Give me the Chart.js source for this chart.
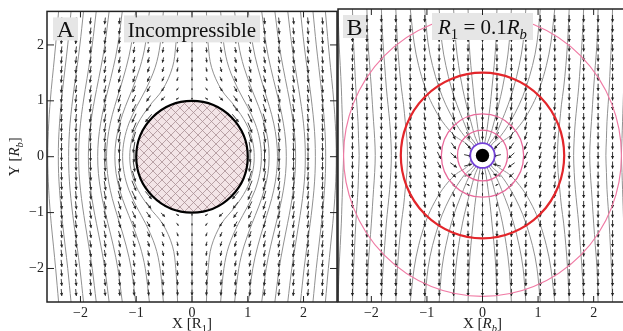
<!DOCTYPE html>
<html>
<head>
<meta charset="utf-8">
<script src="https://cdn.jsdelivr.net/npm/chart.js@4.4.0/dist/chart.umd.min.js"></script>
<style>
html, body { margin: 0; padding: 0; background: #fff; overflow: hidden; width: 623px; height: 331px; }
#wrapA { position: absolute; left: 0; top: 0; width: 338px; height: 331px; }
#wrapB { position: absolute; left: 330px; top: 0; width: 300px; height: 331px; }
</style>
</head>
<body>
<div id="wrapA"><canvas id="chartA" width="338" height="331"></canvas></div>
<div id="wrapB"><canvas id="chartB" width="300" height="331"></canvas></div>
<script>
// axis ticks (same on both panels)
const xTicks = [-2, -1, 0, 1, 2];
const yTicks = [-2, -1, 0, 1, 2];
const tickLabels = ['\u22122', '\u22121', '0', '1', '2'];

// quiver grid
const gridX = [-2.34, -2.08, -1.82, -1.56, -1.3, -1.04, -0.78, -0.52, -0.26, 0,
  0.26, 0.52, 0.78, 1.04, 1.3, 1.56, 1.82, 2.08, 2.34];
const gridY = [-2.43, -2.25, -2.08, -1.91, -1.73, -1.56, -1.39, -1.21, -1.04, -0.87, -0.69, -0.52, -0.35, -0.17, 0,
  0.17, 0.35, 0.52, 0.69, 0.87, 1.04, 1.21, 1.39, 1.56, 1.73, 1.91, 2.08, 2.25, 2.43];

// panel A velocities [vx, vy], quadrant x>=0 (cols 0..2.34), rows y = 0 .. 2.43
const flowA = [
  [null, null, null, null, [0, -1.92], [0, -1.59], [0, -1.41], [0, -1.30], [0, -1.23], [0, -1.18]],
  [null, null, null, null, [0.29, -1.85], [0.15, -1.56], [0.09, -1.40], [0.06, -1.29], [0.04, -1.23], [0.03, -1.18]],
  [null, null, null, null, [0.50, -1.67], [0.28, -1.48], [0.17, -1.35], [0.11, -1.27], [0.07, -1.21], [0.05, -1.17]],
  [null, null, null, null, [0.59, -1.44], [0.35, -1.37], [0.22, -1.30], [0.15, -1.24], [0.10, -1.19], [0.07, -1.16]],
  [null, null, null, [0.91, -1.11], [0.59, -1.25], [0.38, -1.26], [0.25, -1.23], [0.18, -1.20], [0.12, -1.17], [0.09, -1.14]],
  [null, null, null, [0.73, -0.92], [0.54, -1.10], [0.38, -1.16], [0.27, -1.17], [0.19, -1.16], [0.14, -1.14], [0.10, -1.12]],
  [[0, -0.08], [0.41, -0.23], [0.59, -0.56], [0.57, -0.83], [0.46, -1.00], [0.35, -1.08], [0.26, -1.11], [0.20, -1.12], [0.15, -1.11], [0.11, -1.10]],
  [[0, -0.32], [0.27, -0.41], [0.42, -0.60], [0.44, -0.80], [0.39, -0.94], [0.32, -1.02], [0.25, -1.06], [0.19, -1.08], [0.15, -1.08], [0.12, -1.08]],
  [[0, -0.48], [0.18, -0.53], [0.30, -0.66], [0.34, -0.79], [0.32, -0.91], [0.28, -0.98], [0.23, -1.03], [0.18, -1.05], [0.15, -1.06], [0.12, -1.06]],
  [[0, -0.59], [0.13, -0.62], [0.22, -0.70], [0.26, -0.80], [0.26, -0.89], [0.24, -0.96], [0.21, -1.00], [0.17, -1.03], [0.14, -1.04], [0.12, -1.05]],
  [[0, -0.67], [0.10, -0.69], [0.17, -0.75], [0.21, -0.82], [0.22, -0.88], [0.20, -0.94], [0.18, -0.98], [0.16, -1.01], [0.13, -1.02], [0.11, -1.03]],
  [[0, -0.72], [0.07, -0.74], [0.13, -0.78], [0.17, -0.83], [0.18, -0.89], [0.17, -0.93], [0.16, -0.97], [0.14, -0.99], [0.13, -1.01], [0.11, -1.02]],
  [[0, -0.77], [0.06, -0.78], [0.10, -0.81], [0.13, -0.85], [0.15, -0.89], [0.15, -0.93], [0.14, -0.96], [0.13, -0.98], [0.12, -1.00], [0.10, -1.01]],
  [[0, -0.80], [0.04, -0.81], [0.08, -0.83], [0.11, -0.86], [0.12, -0.89], [0.13, -0.93], [0.12, -0.95], [0.12, -0.97], [0.11, -0.99], [0.09, -1.00]],
  [[0, -0.83], [0.04, -0.84], [0.07, -0.85], [0.09, -0.87], [0.10, -0.90], [0.11, -0.93], [0.11, -0.95], [0.10, -0.97], [0.10, -0.99], [0.09, -1.00]]
];

// panel B velocities near the accretor, x = 0 .. 1.3, rows y = 1.39 (top) .. -1.39 (bottom)
const flowB = [
  [[0, -1.16], [-0.03, -1.15], [-0.05, -1.13], [-0.06, -1.10], [-0.06, -1.08], [-0.06, -1.06]],
  [[0, -1.20], [-0.04, -1.19], [-0.07, -1.16], [-0.08, -1.12], [-0.08, -1.09], [-0.07, -1.06]],
  [[0, -1.28], [-0.06, -1.25], [-0.10, -1.20], [-0.11, -1.14], [-0.10, -1.10], [-0.08, -1.07]],
  [[0, -1.40], [-0.11, -1.35], [-0.15, -1.25], [-0.15, -1.16], [-0.13, -1.10], [-0.10, -1.07]],
  [[0, -1.62], [-0.19, -1.51], [-0.24, -1.32], [-0.21, -1.18], [-0.16, -1.11], [-0.12, -1.07]],
  [[0, -2.11], [-0.40, -1.79], [-0.39, -1.39], [-0.28, -1.19], [-0.20, -1.10], [-0.14, -1.06]],
  [[0, -3.5], [-0.96, -2.28], [-0.64, -1.43], [-0.38, -1.17], [-0.24, -1.08], [-0.16, -1.04]],
  [null, [-2.56, -2.7], [-0.95, -1.32], [-0.46, -1.10], [-0.27, -1.04], [-0.17, -1.02]],
  [null, [-4.44, -1], [-1.11, -1], [-0.49, -1], [-0.28, -1], [-0.18, -1]],
  [null, [-2.56, 0.7], [-0.95, -0.68], [-0.46, -0.90], [-0.27, -0.96], [-0.17, -0.98]],
  [[0, 1.5], [-0.96, 0.28], [-0.64, -0.57], [-0.38, -0.83], [-0.24, -0.92], [-0.16, -0.96]],
  [[0, 0.11], [-0.40, -0.21], [-0.39, -0.61], [-0.28, -0.81], [-0.20, -0.90], [-0.14, -0.94]],
  [[0, -0.38], [-0.19, -0.49], [-0.24, -0.68], [-0.21, -0.82], [-0.16, -0.89], [-0.12, -0.93]],
  [[0, -0.60], [-0.11, -0.65], [-0.15, -0.75], [-0.15, -0.84], [-0.13, -0.90], [-0.10, -0.93]],
  [[0, -0.72], [-0.06, -0.75], [-0.10, -0.80], [-0.11, -0.86], [-0.10, -0.90], [-0.08, -0.93]],
  [[0, -0.80], [-0.04, -0.81], [-0.07, -0.84], [-0.08, -0.88], [-0.08, -0.91], [-0.07, -0.94]],
  [[0, -0.84], [-0.03, -0.85], [-0.05, -0.87], [-0.06, -0.90], [-0.06, -0.92], [-0.06, -0.94]]
];

// streamlines, right half, upper half (x at each y level)
const lineYA = [2.6, 2.0, 1.6, 1.2, 0.9, 0.6, 0.3, 0];
const linesA = [
  [0.258, 0.291, 0.35, 0.527, 0.77, 0.967, 1.08, 1.116],
  [0.513, 0.572, 0.66, 0.83, 0.992, 1.13, 1.215, 1.244],
  [0.764, 0.838, 0.932, 1.074, 1.194, 1.295, 1.361, 1.383],
  [1.01, 1.09, 1.179, 1.295, 1.387, 1.465, 1.515, 1.533],
  [1.25, 1.33, 1.41, 1.506, 1.578, 1.638, 1.678, 1.691],
  [1.486, 1.563, 1.633, 1.712, 1.769, 1.816, 1.848, 1.858],
  [1.717, 1.789, 1.85, 1.915, 1.961, 1.999, 2.024, 2.032],
  [1.945, 2.01, 2.062, 2.118, 2.155, 2.186, 2.206, 2.212],
  [2.169, 2.228, 2.274, 2.32, 2.351, 2.375, 2.392, 2.397],
  [2.392, 2.445, 2.484, 2.524, 2.549, 2.569, 2.582, 2.587],
  [2.612, 2.66, 2.695, 2.728, 2.749, 2.765, 2.776, 2.78]
];
const lineYBin = [2.6, 2.0, 1.6, 1.2, 0.9, 0.6, 0.35, 0.15];
const linesBin = [
  [0.26, 0.24, 0.21, 0.17, 0.14, 0.10, 0.065, 0.03],
  [0.52, 0.48, 0.43, 0.36, 0.29, 0.21, 0.14, 0.065],
  [0.78, 0.73, 0.66, 0.56, 0.46, 0.34, 0.23, 0.10],
  [1.04, 0.98, 0.90, 0.78, 0.66, 0.50, 0.33, 0.14],
  [1.30, 1.23, 1.15, 1.03, 0.90, 0.72, 0.50, 0.24]
];
const lineYBout = [2.6, 2.0, 1.6, 1.2, 0.9, 0.6, 0.3, 0];
const linesBout = [
  [1.56, 1.53, 1.50, 1.46, 1.42, 1.39, 1.36, 1.35],
  [1.82, 1.79, 1.76, 1.73, 1.70, 1.67, 1.65, 1.64],
  [2.08, 2.06, 2.03, 2.00, 1.98, 1.96, 1.94, 1.93],
  [2.34, 2.32, 2.30, 2.28, 2.26, 2.24, 2.23, 2.22],
  [2.60, 2.58, 2.56, 2.54, 2.53, 2.52, 2.51, 2.50]
];

// radii
const obstacleA = 1.0;
const radiiB = [2.5, 1.47, 0.74, 0.45, 0.22];
const accretorB = 0.12;

const SERIF = "'Liberation Serif', 'DejaVu Serif', serif";

function mirrorLine(xs, ys, sx) {
  const pts = xs.map((x, i) => ({ x: sx * x, y: ys[i] }));
  for (let i = xs.length - 1; i >= 0; i--) {
    if (ys[i] !== 0) pts.push({ x: sx * xs[i], y: -ys[i] });
  }
  return pts;
}

function streamSet(data) {
  return { data: data, showLine: true, pointRadius: 0, borderColor: '#919191', borderWidth: 1, tension: 0.35, fill: false };
}

function arrowPoints(lookup) {
  const pts = [];
  gridX.forEach((gx, i) => gridY.forEach((gy, j) => {
    const vec = lookup(i, j, gx, gy);
    if (vec) pts.push({ x: gx, y: gy, u: vec[0], v: vec[1] });
  }));
  return pts;
}

const arrowsA = arrowPoints((i, j, gx, gy) => {
  const q = flowA[Math.abs(j - 14)][Math.abs(i - 9)];
  if (!q) return null;
  return [Math.sign(gx) * Math.sign(gy) * q[0], q[1]];
});
const arrowsB = arrowPoints((i, j, gx) => {
  const c = Math.abs(i - 9), r = 22 - j;
  if (c < flowB[0].length && r >= 0 && r < flowB.length) {
    const q = flowB[r][c];
    return q ? [(gx < 0 ? -1 : 1) * q[0], q[1]] : null;
  }
  return [0, -1];
});

const dsA = [];
linesA.forEach(xs => { dsA.push(streamSet(mirrorLine(xs, lineYA, 1))); dsA.push(streamSet(mirrorLine(xs, lineYA, -1))); });
dsA.push(streamSet([{ x: 0, y: 2.6 }, { x: 0, y: obstacleA }]));
dsA.push(streamSet([{ x: 0, y: -obstacleA }, { x: 0, y: -2.6 }]));
dsA.push({ data: arrowsA, pointRadius: 0, showLine: false });

const dsB = [];
linesBin.forEach(xs => { dsB.push(streamSet(mirrorLine(xs, lineYBin, 1))); dsB.push(streamSet(mirrorLine(xs, lineYBin, -1))); });
linesBout.forEach(xs => { dsB.push(streamSet(mirrorLine(xs, lineYBout, 1))); dsB.push(streamSet(mirrorLine(xs, lineYBout, -1))); });
dsB.push(streamSet([{ x: 0, y: 2.6 }, { x: 0, y: -2.6 }]));
dsB.push({ data: arrowsB, pointRadius: 0, showLine: false });

// drawing settings per panel, kept outside Chart.js option resolution
const panelStyle = {
  chartA: {
    arrowColor: '#2a2a2a', arrowWidth: 0.9, arrowScale: 7, arrowMax: 11, arrowHead: 3,
    circles: [{ r: obstacleA, fill: 'hatch', stroke: '#000', width: 2.2 }],
    boxes: [
      { box: [6, 6, 25, 23], base: 26, size: 24, parts: [['A', '']] },
      { box: [77, 4, 136, 27], base: 26, size: 21, parts: [['Incompressible', '']] }
    ],
    tickSides: ['bottom', 'top', 'left', 'right'],
    xTitle: [['X [', ''], ['R', ''], ['1', 's'], [']', '']],
    yTitle: [['Y [', ''], ['R', 'i'], ['b', 'is'], [']', '']]
  },
  chartB: {
    arrowColor: '#222', arrowWidth: 0.9, arrowScale: 7.2, arrowMax: 8, arrowHead: 3,
    circles: [
      { r: radiiB[0], fill: null, stroke: '#f07aa4', width: 1.2 },
      { r: radiiB[1], fill: null, stroke: '#e3262b', width: 2.2 },
      { r: radiiB[2], fill: null, stroke: '#e8699a', width: 1.3 },
      { r: radiiB[3], fill: null, stroke: '#e8699a', width: 1.3 },
      { r: radiiB[4], fill: '#fff', stroke: '#7442d8', width: 1.8 },
      { r: accretorB, fill: '#000', stroke: null, width: 0 }
    ],
    boxes: [
      { box: [5, 6, 23, 23], base: 26, size: 24, parts: [['B', '']] },
      { box: [94, 4, 101, 27], base: 25, size: 21, parts: [['R', 'i'], ['1', 's'], [' = 0.1', ''], ['R', 'i'], ['b', 'is']] }
    ],
    tickSides: ['bottom', 'top'],
    xTitle: [['X [', ''], ['R', 'i'], ['b', 'is'], [']', '']],
    yTitle: null
  }
};

function hatchPattern(ctx) {
  const c = document.createElement('canvas');
  c.width = 9; c.height = 9;
  const g = c.getContext('2d');
  g.fillStyle = '#f3e4e7';
  g.fillRect(0, 0, 9, 9);
  g.strokeStyle = '#a98f96';
  g.lineWidth = 0.8;
  g.beginPath();
  g.moveTo(-2, -2); g.lineTo(11, 11);
  g.moveTo(11, -2); g.lineTo(-2, 11);
  g.stroke();
  return ctx.createPattern(c, 'repeat');
}

function drawArrow(ctx, px, py, u, v, s, maxLen, head) {
  let dx = u * s, dy = -v * s;
  let L = Math.hypot(dx, dy);
  if (L > maxLen) { dx *= maxLen / L; dy *= maxLen / L; L = maxLen; }
  if (L < 1.5) { ctx.fillRect(px - 0.7, py - 0.7, 1.4, 1.4); return; }
  const ux = dx / L, uy = dy / L;
  const hx = px + dx / 2, hy = py + dy / 2;
  ctx.beginPath();
  ctx.moveTo(px - dx / 2, py - dy / 2);
  ctx.lineTo(hx, hy);
  ctx.stroke();
  const hl = Math.min(head, L * 0.5), hw = hl * 0.55;
  ctx.beginPath();
  ctx.moveTo(hx, hy);
  ctx.lineTo(hx - ux * hl - uy * hw, hy - uy * hl + ux * hw);
  ctx.lineTo(hx - ux * hl + uy * hw, hy - uy * hl - ux * hw);
  ctx.closePath();
  ctx.fill();
}

function richText(ctx, parts, x, y, size, align) {
  const fontFor = m => (m.indexOf('i') >= 0 ? 'italic ' : '') + (m.indexOf('s') >= 0 ? size * 0.7 : size) + 'px ' + SERIF;
  let w = 0;
  parts.forEach(p => { ctx.font = fontFor(p[1]); w += ctx.measureText(p[0]).width; });
  let cx = align === 'center' ? x - w / 2 : x;
  ctx.textAlign = 'left';
  ctx.textBaseline = 'alphabetic';
  parts.forEach(p => {
    ctx.font = fontFor(p[1]);
    ctx.fillText(p[0], cx, y + (p[1].indexOf('s') >= 0 ? size * 0.25 : 0));
    cx += ctx.measureText(p[0]).width;
  });
}

const panelPlugin = {
  id: 'panel',
  afterDatasetsDraw(chart) {
    const opts = panelStyle[chart.canvas.id];
    const { ctx, chartArea: a, scales: { x, y } } = chart;
    ctx.save();
    ctx.beginPath();
    ctx.rect(a.left, a.top, a.right - a.left, a.bottom - a.top);
    ctx.clip();
    // quiver arrows
    const idx = chart.data.datasets.length - 1;
    const meta = chart.getDatasetMeta(idx);
    const pts = chart.data.datasets[idx].data;
    ctx.strokeStyle = opts.arrowColor;
    ctx.fillStyle = opts.arrowColor;
    ctx.lineWidth = opts.arrowWidth;
    meta.data.forEach((el, i) => drawArrow(ctx, el.x, el.y, pts[i].u, pts[i].v, opts.arrowScale, opts.arrowMax, opts.arrowHead));
    // circles
    const cx = x.getPixelForValue(0), cy = y.getPixelForValue(0);
    opts.circles.forEach(c => {
      const rx = x.getPixelForValue(c.r) - cx, ry = cy - y.getPixelForValue(c.r);
      ctx.beginPath();
      ctx.ellipse(cx, cy, rx, ry, 0, 0, Math.PI * 2);
      if (c.fill) { ctx.fillStyle = c.fill === 'hatch' ? hatchPattern(ctx) : c.fill; ctx.fill(); }
      if (c.stroke) { ctx.strokeStyle = c.stroke; ctx.lineWidth = c.width; ctx.stroke(); }
    });
    ctx.restore();

    // label boxes
    ctx.save();
    opts.boxes.forEach(b => {
      ctx.fillStyle = '#e6e6e6';
      ctx.fillRect(a.left + b.box[0], a.top + b.box[1], b.box[2], b.box[3]);
      ctx.fillStyle = '#111';
      richText(ctx, b.parts, a.left + b.box[0] + b.box[2] / 2, a.top + b.base, b.size, 'center');
    });
    ctx.restore();

    // frame and inward ticks
    ctx.save();
    ctx.strokeStyle = '#222';
    ctx.lineWidth = 1;
    opts.tickSides.forEach(side => {
      const vals = (side === 'bottom' || side === 'top') ? xTicks : yTicks;
      vals.forEach(v => {
        ctx.beginPath();
        if (side === 'bottom') { const p = x.getPixelForValue(v); ctx.moveTo(p, a.bottom); ctx.lineTo(p, a.bottom - 6); }
        if (side === 'top') { const p = x.getPixelForValue(v); ctx.moveTo(p, a.top); ctx.lineTo(p, a.top + 6); }
        if (side === 'left') { const p = y.getPixelForValue(v); ctx.moveTo(a.left, p); ctx.lineTo(a.left + 7, p); }
        if (side === 'right') { const p = y.getPixelForValue(v); ctx.moveTo(a.right, p); ctx.lineTo(a.right - 7, p); }
        ctx.stroke();
      });
    });
    ctx.lineWidth = 1.5;
    ctx.strokeRect(a.left, a.top, a.right - a.left, a.bottom - a.top);
    ctx.restore();
  },
  afterDraw(chart) {
    const opts = panelStyle[chart.canvas.id];
    const { ctx, chartArea: a } = chart;
    ctx.save();
    ctx.fillStyle = '#222';
    richText(ctx, opts.xTitle, (a.left + a.right) / 2, 328, 15, 'center');
    if (opts.yTitle) {
      ctx.translate(14, (a.top + a.bottom) / 2);
      ctx.rotate(-Math.PI / 2);
      richText(ctx, opts.yTitle, 0, 5, 15, 'center');
    }
    ctx.restore();
  }
};

function axis(ticks, fit, show) {
  return {
    type: 'linear', min: -2.6, max: 2.6, display: show,
    grid: { display: false, drawTicks: false },
    border: { display: false },
    afterBuildTicks: s => { s.ticks = ticks.map(v => ({ value: v })); },
    afterFit: fit,
    ticks: {
      autoSkip: false, maxRotation: 0, color: '#222', padding: 3,
      font: { family: SERIF, size: 14 },
      callback: (v, i) => tickLabels[i]
    }
  };
}

new Chart(document.getElementById('chartA'), {
  type: 'scatter',
  data: { datasets: dsA },
  options: {
    responsive: false, animation: false, events: [],
    layout: { padding: { top: 9, right: 1, left: 0, bottom: 0 } },
    scales: {
      x: axis(xTicks, s => { s.height = 29; }, true),
      y: axis(yTicks, s => { s.width = 47; }, true)
    },
    plugins: { legend: { display: false }, tooltip: { enabled: false } }
  },
  plugins: [panelPlugin]
});

new Chart(document.getElementById('chartB'), {
  type: 'scatter',
  data: { datasets: dsB },
  options: {
    responsive: false, animation: false, events: [],
    layout: { padding: { top: 9, right: 3, left: 8, bottom: 0 } },
    scales: {
      x: axis(xTicks, s => { s.height = 29; }, true),
      y: axis(yTicks, s => { s.width = 0; }, false)
    },
    plugins: { legend: { display: false }, tooltip: { enabled: false } }
  },
  plugins: [panelPlugin]
});
</script>
</body>
</html>
